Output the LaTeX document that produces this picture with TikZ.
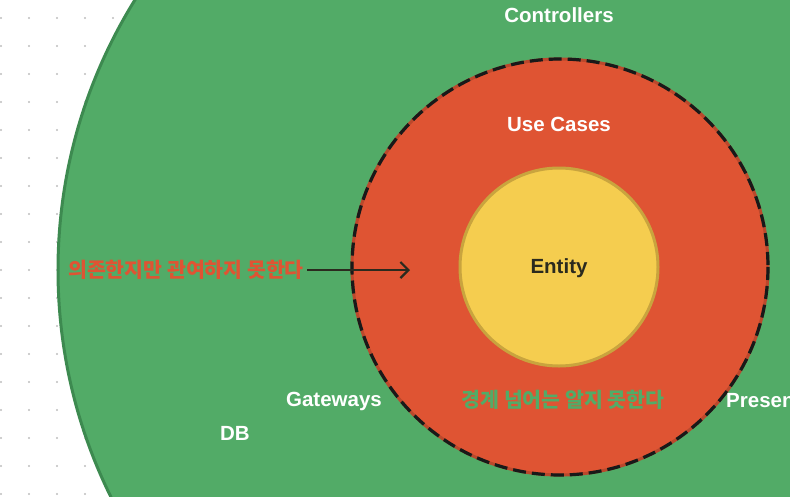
\documentclass[tikz,border=0pt]{standalone}
\usepackage{fontspec}
\setmainfont{Liberation Sans}
\newfontfamily\krfont{Noto Sans CJK KR}
\usetikzlibrary{arrows.meta}
\definecolor{layergreen}{RGB}{82,171,103}
\definecolor{layergreenline}{RGB}{61,138,80}
\definecolor{layerred}{RGB}{223,84,51}
\definecolor{layerredline}{RGB}{186,72,44}
\definecolor{layeryellow}{RGB}{245,205,79}
\definecolor{layeryellowline}{RGB}{201,164,62}
\definecolor{entityink}{RGB}{43,42,30}
\definecolor{dotgrey}{RGB}{190,190,190}
\tikzstyle{layer}=[circle,inner sep=0pt,line width=3pt]
\tikzstyle{ringdash}=[draw=black!90,line width=3.2pt,dash pattern=on 13pt off 6pt]
\tikzstyle{layername}=[text=white,font=\fontsize{20.5}{24}\selectfont\bfseries]
\tikzstyle{rule}=[font=\krfont\fontsize{20.5}{24}\selectfont\bfseries]
\newcommand{\drawdots}[2]{
\pgfmathsetmacro{\w}{#1}
\pgfmathsetmacro{\h}{#2}
  \foreach \i in {1,29,...,\w} {
    \foreach \j in {18,46,...,\h} {
      \fill[dotgrey] (\i,\j) circle (1.1);
    }
  }
}

\begin{document}
\begin{tikzpicture}[x=1pt,y=-1pt]
	\useasboundingbox (0,0) rectangle (790,496);
	\clip (0,0) rectangle (790,496);
	\drawdots{790}{496}
	% layers
	\node[layer,draw=layergreenline,fill=layergreen,minimum size=1024pt] (outer) at (570,270) {};
	\node[layer,draw=layerredline,fill=layerred,minimum size=416pt] (usecases) at (560,267) {};
	\draw[ringdash] (usecases.center) circle (208);
	\node[layer,draw=layeryellowline,fill=layeryellow,minimum size=198pt] (entity) at (559,267) {};
	% names
	\node[layername] (controllers) at (559,15) {Controllers};
	\node[layername] (usecasesname) at (559,124) {Use Cases};
	\node[layername,text=entityink] (entityname) at (559,268) {Entity};
	\node[layername] (gateways) at (334,401) {Gateways};
	\node[layername] (db) at (235,433) {DB};
	\node[layername,anchor=west,inner sep=0pt] (presenters) at (726,401) {Presenters};
	% rules
	\node[rule,text=layerred] (depend) at (186,270) {의존한지만 관여하지 못한다};
	\node[rule,text=layergreen] (boundary) at (563,400) {경계 넘어는 알지 못한다};
	\coordinate (inward) at (410,270);
	\draw[-{Straight Barb[length=8pt,width=16pt]},line width=2.2pt,entityink] (depend.east) -- (inward);
\end{tikzpicture}
\end{document}
